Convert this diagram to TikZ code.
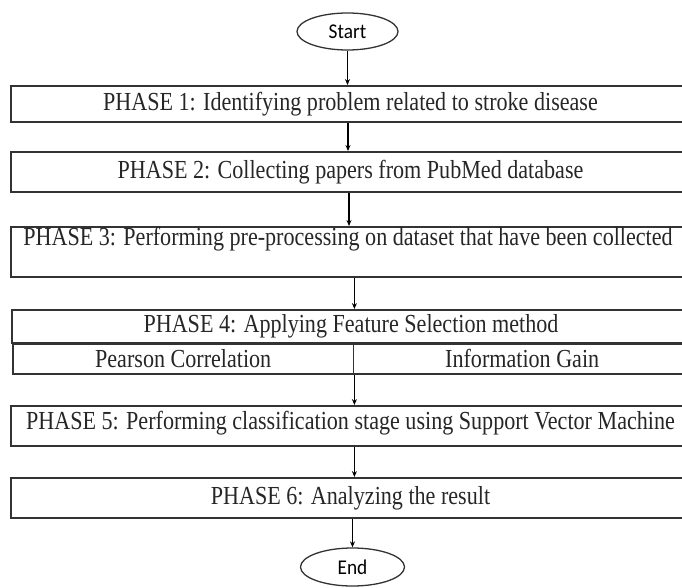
\documentclass[tikz,border=0pt]{standalone}
\usepackage{fontspec}
\setmainfont{Liberation Serif}[FakeStretch=0.85]
\newfontfamily\termfont{Carlito}[FakeStretch=0.92]
\usetikzlibrary{shapes.geometric,arrows.meta}
\definecolor{edge}{HTML}{333333}
\tikzset{
  phasebox/.style={draw=edge,line width=1.9pt,rectangle,inner sep=0pt,minimum width=679pt},
  term/.style={draw=edge,line width=1.3pt,ellipse,inner sep=0pt,font=\termfont\fontsize{21}{24}\selectfont},
  ptext/.style={inner sep=0pt,text=black!85,font=\fontsize{26}{30}\selectfont},
  arr/.style={draw=black,line width=1.6pt,-{Stealth[length=6pt,width=5pt]}}
}
\begin{document}
\begin{tikzpicture}[x=1pt,y=-1pt]
\useasboundingbox (0,0) rectangle (682,588);
% terminals
\node[term,minimum width=101pt,minimum height=37pt] (start) at (347.5,31.5) {Start};
\node[term,minimum width=104pt,minimum height=38pt] (end) at (352.5,567) {End};
% phase boxes
\node[phasebox,minimum height=36pt] (p1) at (350.5,104) {};
\node[ptext] (t1) at (p1.center) {PHASE 1: Identifying problem related to stroke disease};
\node[phasebox,minimum height=40pt] (p2) at (350.5,172) {};
\node[ptext] (t2) at (p2.center) {PHASE 2: Collecting papers from PubMed database};
\node[phasebox,minimum height=50pt] (p3) at (350.5,252) {};
\node[ptext] (t3) at (348,239) {PHASE 3: Performing pre-processing on dataset that have been collected};
\node[phasebox,minimum width=678pt,minimum height=33pt] (p4) at (351,326.5) {};
\node[ptext] (t4) at (p4.center) {PHASE 4: Applying Feature Selection method};
\node[phasebox,minimum width=340.5pt,minimum height=30pt,anchor=north west] (p4l) at (12,343) {};
\node[ptext] (t4l) at (p4l.center) {Pearson Correlation};
\node[phasebox,minimum width=337.5pt,minimum height=30pt,anchor=north west] (p4r) at (352.5,343) {};
\node[ptext] (t4r) at (p4r.center) {Information Gain};
\node[phasebox,minimum height=40pt] (p5) at (350.5,426) {};
\node[ptext] (t5) at (350.5,423) {PHASE 5: Performing classification stage using Support Vector Machine};
\node[phasebox,minimum height=40pt] (p6) at (350.5,498) {};
\node[ptext] (t6) at (p6.center) {PHASE 6: Analyzing the result};
% connectors
\draw[arr] (start.south) -- (start.south |- p1.north);
\draw[arr] ([xshift=-2.5pt]p1.south) -- ([xshift=-2.5pt]p2.north);
\draw[arr] ([xshift=-1.5pt]p2.south) -- ([xshift=-1.5pt]p3.north);
\draw[arr] (p3.south -| p4l.north east) -- (p4l.north east |- p4.north);
\draw[arr] (p4l.south east) -- (p4l.south east |- p5.north);
\draw[arr] (p5.south -| p4l.south east) -- (p6.north -| p4l.south east);
\draw[arr] (p6.south -| end.north) -- (end.north);
\end{tikzpicture}
\end{document}
